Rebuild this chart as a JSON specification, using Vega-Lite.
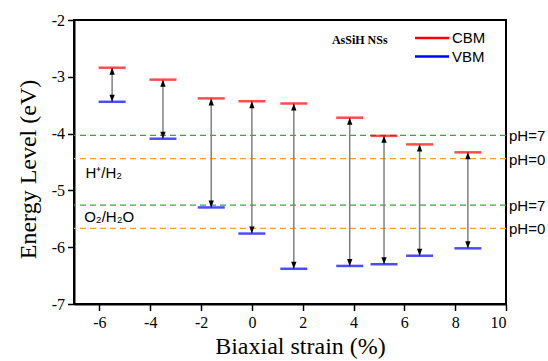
{
  "$schema": "https://vega.github.io/schema/vega-lite/v6.json",
  "width": 432,
  "height": 284,
  "autosize": "none",
  "padding": {"left": 74, "top": 20, "right": 42, "bottom": 57},
  "background": "white",
  "datasets": {
    "levels": [
      {"strain": -5.5, "CBM": -2.84, "VBM": -3.44},
      {"strain": -3.5, "CBM": -3.05, "VBM": -4.09},
      {"strain": -1.6, "CBM": -3.38, "VBM": -5.30},
      {"strain": 0.0, "CBM": -3.43, "VBM": -5.76},
      {"strain": 1.65, "CBM": -3.47, "VBM": -6.38},
      {"strain": 3.85, "CBM": -3.72, "VBM": -6.33},
      {"strain": 5.2, "CBM": -4.04, "VBM": -6.30},
      {"strain": 6.6, "CBM": -4.19, "VBM": -6.15},
      {"strain": 8.5, "CBM": -4.33, "VBM": -6.02}
    ],
    "redox": [
      {"couple": "H+/H2", "ph": 7, "label": "pH=7", "level": -4.03},
      {"couple": "H+/H2", "ph": 0, "label": "pH=0", "level": -4.44},
      {"couple": "O2/H2O", "ph": 7, "label": "pH=7", "level": -5.26},
      {"couple": "O2/H2O", "ph": 0, "label": "pH=0", "level": -5.67}
    ]
  },
  "config": {
    "view": {"stroke": "black", "strokeWidth": 2},
    "axis": {
      "grid": false,
      "domainColor": "black",
      "domainWidth": 2,
      "tickColor": "black",
      "tickWidth": 1.5,
      "labelFont": "Liberation Serif",
      "labelFontSize": 16,
      "labelColor": "black",
      "titleFont": "Liberation Serif",
      "titleFontSize": 24,
      "titleFontWeight": "normal",
      "titleColor": "black"
    }
  },
  "layer": [
    {
      "data": {"name": "redox"},
      "transform": [{"filter": "datum.ph == 7"}],
      "mark": {"type": "rule", "color": "#3aa83a", "strokeWidth": 1.3, "strokeDash": [6, 4]},
      "encoding": {
        "y": {
          "field": "level",
          "type": "quantitative",
          "scale": {"domain": [-7, -2], "nice": false, "zero": false},
          "axis": {
            "title": "Energy Level (eV)",
            "values": [-7, -6.5, -6, -5.5, -5, -4.5, -4, -3.5, -3, -2.5, -2],
            "labelExpr": "datum.value % 1 == 0 ? '' + datum.value : ''",
            "tickSize": {"condition": {"test": "datum.value % 1 != 0", "value": 3.5}, "value": 6.5},
            "labelPadding": 3,
            "titlePadding": 11,
            "titleY": 149
          }
        }
      }
    },
    {
      "data": {"name": "redox"},
      "transform": [{"filter": "datum.ph == 0"}],
      "mark": {"type": "rule", "color": "#f0a030", "strokeWidth": 1.3, "strokeDash": [6, 4]},
      "encoding": {"y": {"field": "level", "type": "quantitative"}}
    },
    {
      "data": {"name": "redox"},
      "mark": {"type": "text", "align": "left", "baseline": "middle", "dx": 3, "dy": 1, "font": "Liberation Sans", "fontSize": 15, "color": "black", "clip": false},
      "encoding": {
        "x": {"datum": 10, "type": "quantitative"},
        "y": {"field": "level", "type": "quantitative"},
        "text": {"field": "label"}
      }
    },
    {
      "data": {"name": "levels"},
      "mark": {"type": "rule", "color": "#808080", "strokeWidth": 1.5},
      "encoding": {
        "x": {
          "field": "strain",
          "type": "quantitative",
          "scale": {"domain": [-7, 10], "nice": false, "zero": false},
          "axis": {
            "title": "Biaxial strain (%)",
            "values": [-6, -5, -4, -3, -2, -1, 0, 1, 2, 3, 4, 5, 6, 7, 8, 9, 10],
            "labelExpr": "datum.value % 2 == 0 ? '' + datum.value : ''",
            "tickSize": {"condition": {"test": "datum.value % 2 != 0", "value": 3.5}, "value": 6.5},
            "labelPadding": 4,
            "titlePadding": 4,
            "titleX": 226
          }
        },
        "y": {"field": "CBM", "type": "quantitative"},
        "y2": {"field": "VBM"}
      }
    },
    {
      "data": {"name": "levels"},
      "mark": {"type": "point", "shape": "M0,0L-0.38,1L0.38,1Z", "filled": true, "color": "black", "opacity": 1, "size": 196},
      "encoding": {
        "x": {"field": "strain", "type": "quantitative"},
        "y": {"field": "CBM", "type": "quantitative"}
      }
    },
    {
      "data": {"name": "levels"},
      "mark": {"type": "point", "shape": "M0,0L-0.38,-1L0.38,-1Z", "filled": true, "color": "black", "opacity": 1, "size": 196},
      "encoding": {
        "x": {"field": "strain", "type": "quantitative"},
        "y": {"field": "VBM", "type": "quantitative"}
      }
    },
    {
      "data": {"name": "levels"},
      "transform": [{"fold": ["CBM", "VBM"], "as": ["band", "energy"]}],
      "mark": {"type": "tick", "orient": "horizontal", "size": 27, "thickness": 2.5},
      "encoding": {
        "x": {"field": "strain", "type": "quantitative"},
        "y": {"field": "energy", "type": "quantitative"},
        "color": {
          "field": "band",
          "type": "nominal",
          "scale": {"domain": ["CBM", "VBM"], "range": ["#ff0000", "#0000ff"]},
          "legend": {
            "title": null,
            "orient": "none",
            "legendX": 341,
            "legendY": 10,
            "padding": 0,
            "symbolType": "M-1,-0.075L1,-0.075L1,0.075L-1,0.075Z",
            "symbolSize": 1156,
            "symbolStrokeWidth": 0,
            "symbolOpacity": 1,
            "clipHeight": 16,
            "rowPadding": 2.5,
            "labelFont": "Liberation Sans",
            "labelFontSize": 15,
            "labelColor": "black",
            "labelOffset": 3
          }
        }
      }
    },
    {
      "data": {"values": [{"label": "H⁺/H₂", "x": -6.55, "y": -4.7}, {"label": "O₂/H₂O", "x": -6.6, "y": -5.47}]},
      "mark": {"type": "text", "align": "left", "baseline": "middle", "font": "Liberation Sans", "fontSize": 15, "color": "black"},
      "encoding": {
        "x": {"field": "x", "type": "quantitative"},
        "y": {"field": "y", "type": "quantitative"},
        "text": {"field": "label"}
      }
    },
    {
      "data": {"values": [{"label": "AsSiH NSs", "x": 3.15, "y": -2.35}]},
      "mark": {"type": "text", "align": "left", "baseline": "middle", "font": "Liberation Serif", "fontSize": 12, "fontWeight": "bold", "color": "black"},
      "encoding": {
        "x": {"field": "x", "type": "quantitative"},
        "y": {"field": "y", "type": "quantitative"},
        "text": {"field": "label"}
      }
    }
  ]
}
